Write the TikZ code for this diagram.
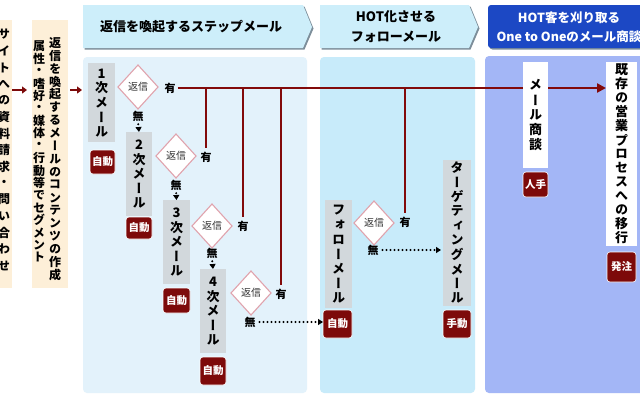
\documentclass[tikz,border=0pt]{standalone}
\usepackage{fontspec}
\usetikzlibrary{shapes.geometric,arrows.meta}
\newfontfamily\jp{Noto Sans CJK JP}
\newfontfamily\jpv[RawFeature=+vert]{Noto Sans CJK JP}
\definecolor{boxgrey}{HTML}{D2D8DC}
\definecolor{tagred}{HTML}{7D0A0A}
\definecolor{linered}{HTML}{820A0A}
\definecolor{diapink}{HTML}{E0A3AD}
\definecolor{pone}{HTML}{E3F2FB}
\definecolor{ptwo}{HTML}{C8EBFA}
\definecolor{pthree}{HTML}{A3B6F6}
\definecolor{hdrlight}{HTML}{CDEEFA}
\definecolor{hdrblue}{HTML}{1C48C4}
\definecolor{hdrshadow}{HTML}{7D8E9A}
\definecolor{beige}{HTML}{FDEFD8}
\ExplSyntaxOn
\NewDocumentCommand \vt { O{14.5pt} m }
  {
    \vbox:n
      {
        \offinterlineskip
        \tl_map_inline:nn {#2}
          {
            \hbox_to_wd:nn {1.1em}
              { \hss \vbox_to_ht:nn {#1} { \vss \hbox:n {##1} \vss } \hss }
          }
      }
  }
\ExplSyntaxOff
\begin{document}
\begin{tikzpicture}[x=1pt,y=-1pt,
  every node/.style={inner sep=0pt,outer sep=0pt},
  greybox/.style={fill=boxgrey,font=\jpv\bfseries\fontsize{13}{13}\selectfont},
  whitebox/.style={fill=white,font=\jpv\bfseries\fontsize{13}{13}\selectfont},
  redtag/.style={fill=tagred,draw=white,line width=0.6pt,rounded corners=3pt,text=white,
    font=\jp\bfseries\fontsize{10.5}{11}\selectfont},
  dia/.style={diamond,draw=diapink,line width=1.1pt,fill=white,minimum width=40pt,
    minimum height=44pt,font=\jp\fontsize{10}{10}\selectfont,text=black!80},
  yn/.style={font=\jp\bfseries\fontsize{11}{11}\selectfont},
  mainln/.style={draw=linered,line width=2.6pt},
  dotarr/.style={line width=2.2pt,line cap=round,dash pattern=on 0pt off 4pt,
    -{Triangle[length=5pt,width=6pt,line cap=butt]}},
  smallarr/.style={draw=tagred,line width=2.2pt,-{Triangle[length=5pt,width=7pt]}},
  beigebox/.style={fill=beige},
  striptext/.style={font=\jpv\bfseries\fontsize{12}{12}\selectfont},
  hdrtext/.style={font=\jp\bfseries\fontsize{13}{20}\selectfont,align=center},
]
\useasboundingbox (0,0) rectangle (640,400);
\clip (0,0) rectangle (640,400);
\fill[white] (0,0) rectangle (640,400);

% left strips
\node[beigebox,minimum width=12pt,minimum height=268pt] (s1) at (6,154) {};
\node[beigebox,minimum width=36pt,minimum height=268pt] (s2) at (50,154) {};
\node[striptext] (s1t) at (4,150) {\vt[16.5pt]{サイトへの資料請求・問い合わせ}};
\node[striptext] (s2a) at (55,159) {\vt[12.9pt]{返信を喚起するメールのコンテンツの作成}};
\node[striptext] (s2b) at (39,152) {\vt[12.4pt]{属性・嗜好・媒体・行動等でセグメント}};
\coordinate (arrowlevel) at (0,90);

% panels
\fill[pone,rounded corners=4pt] (83,57) rectangle (307,393);
\fill[ptwo,rounded corners=4pt] (320,57) rectangle (475,393);
\fill[pthree,rounded corners=4pt] (485,56) rectangle (660,393);

% headers
\fill[hdrshadow] (84.5,6.5) -- (304.5,6.5) -- (313.5,28.5) -- (304.5,49.5) -- (84.5,49.5) -- cycle;
\fill[hdrlight] (83,5) -- (303,5) -- (312,27) -- (303,48) -- (83,48) -- cycle;
\fill[hdrshadow] (321.5,6.5) -- (470.5,6.5) -- (479.5,28.5) -- (470.5,49.5) -- (321.5,49.5) -- cycle;
\fill[hdrlight] (320,5) -- (469,5) -- (478,27) -- (469,48) -- (320,48) -- cycle;
\fill[hdrshadow,rounded corners=3pt] (489.5,6.5) rectangle (662,49.5);
\fill[hdrblue,rounded corners=3pt] (488,5) rectangle (660,48);
\node[hdrtext] (h1) at (191,27) {返信を喚起するステップメール};
\node[hdrtext] (h2) at (396,27) {HOT化させる\\フォローメール};
\node[hdrtext,text=white,font=\jp\bfseries\fontsize{12.5}{19}\selectfont] (h3) at (569,27)
  {HOT客を刈り取る\\One to Oneのメール商談};

% step mails
\node[greybox,minimum width=27pt,minimum height=79pt] (m1) at (101.5,102.5) {\vt{1次メール}};
\node[redtag,minimum width=25pt,minimum height=24pt] (t1) at (102.5,162) {自動};
\node[greybox,minimum width=26pt,minimum height=84pt] (m2) at (139,174) {\vt{2次メール}};
\node[redtag,minimum width=26pt,minimum height=22pt] (t2) at (139,228) {自動};
\node[greybox,minimum width=27pt,minimum height=84pt] (m3) at (176.5,242) {\vt{3次メール}};
\node[redtag,minimum width=27pt,minimum height=25pt] (t3) at (176.5,300.5) {自動};
\node[greybox,minimum width=26pt,minimum height=84pt] (m4) at (213,311) {\vt{4次メール}};
\node[redtag,minimum width=26pt,minimum height=28pt] (t4) at (213,371) {自動};
\node[greybox,minimum width=27pt,minimum height=108pt] (m5) at (338.5,254) {\vt{フォローメール}};
\node[redtag,minimum width=29pt,minimum height=28pt] (t5) at (337.5,324) {自動};
\node[greybox,minimum width=28pt,minimum height=146pt] (m6) at (457,233) {\vt{ターゲティングメール}};
\node[redtag,minimum width=28pt,minimum height=28pt] (t6) at (457,324) {手動};
\node[whitebox,minimum width=31pt,minimum height=184pt] (m8) at (621.5,154) {\vt[14pt]{既存の営業プロセスへの移行}};
\node[redtag,minimum width=29pt,minimum height=30pt] (t8) at (621.5,267) {発注};

% decisions
\node[dia] (d1) at (138,87) {返信};
\node[yn] (y1) at (170,88) {有};
\node[yn] (n1) at (138,116) {無};
\node[dia] (d2) at (176,156) {返信};
\node[yn] (y2) at (206,157) {有};
\node[yn] (n2) at (176,185) {無};
\node[dia] (d3) at (212,226) {返信};
\node[yn] (y3) at (243,226) {有};
\node[yn] (n3) at (212,253) {無};
\node[dia] (d4) at (251,293) {返信};
\node[yn] (y4) at (281,294) {有};
\node[yn] (n4) at (250,322) {無};
\node[dia] (d5) at (374,223) {返信};
\node[yn] (y5) at (405,222) {有};
\node[yn] (n5) at (373,250) {無};

% connectors
\draw[smallarr,shorten >=5pt] (s1.east |- arrowlevel) -- (s2.west |- arrowlevel);
\draw[smallarr,shorten <=2pt,shorten >=6pt] (s2.east |- arrowlevel) -- (m1.west |- arrowlevel);
\draw[dotarr,shorten <=3pt] (n1.south) -- (m2.north);
\draw[dotarr,shorten <=3pt] (n2.south) -- (m3.north);
\draw[dotarr,shorten <=3pt] (n3.south) -- (m4.north);
\draw[dotarr,shorten <=4pt] (n4.east) -- (t5.west |- n4.east);
\draw[dotarr,shorten <=4pt,shorten >=2pt] (n5.east) -- (m6.west |- n5.east);
\draw[mainln,shorten <=2pt,-{Triangle[length=9pt,width=9pt]}] (y1.east) -- (m8.west |- y1.east);
\draw[mainln,shorten <=4pt] (y2.north) -- (y2.north |- y1.east);
\draw[mainln,shorten <=4pt] (y3.north) -- (y3.north |- y1.east);
\draw[mainln,shorten <=4pt] (y4.north) -- (y4.north |- y1.east);
\draw[mainln,shorten <=4pt] (y5.north) -- (y5.north |- y1.east);

% one-to-one mail negotiation (drawn over the main line)
\node[whitebox,minimum width=25pt,minimum height=106pt] (m7) at (535.5,115) {\vt[15pt]{メール商談}};
\node[redtag,minimum width=25pt,minimum height=25pt] (t7) at (535.5,184.5) {人手};
\end{tikzpicture}
\end{document}
